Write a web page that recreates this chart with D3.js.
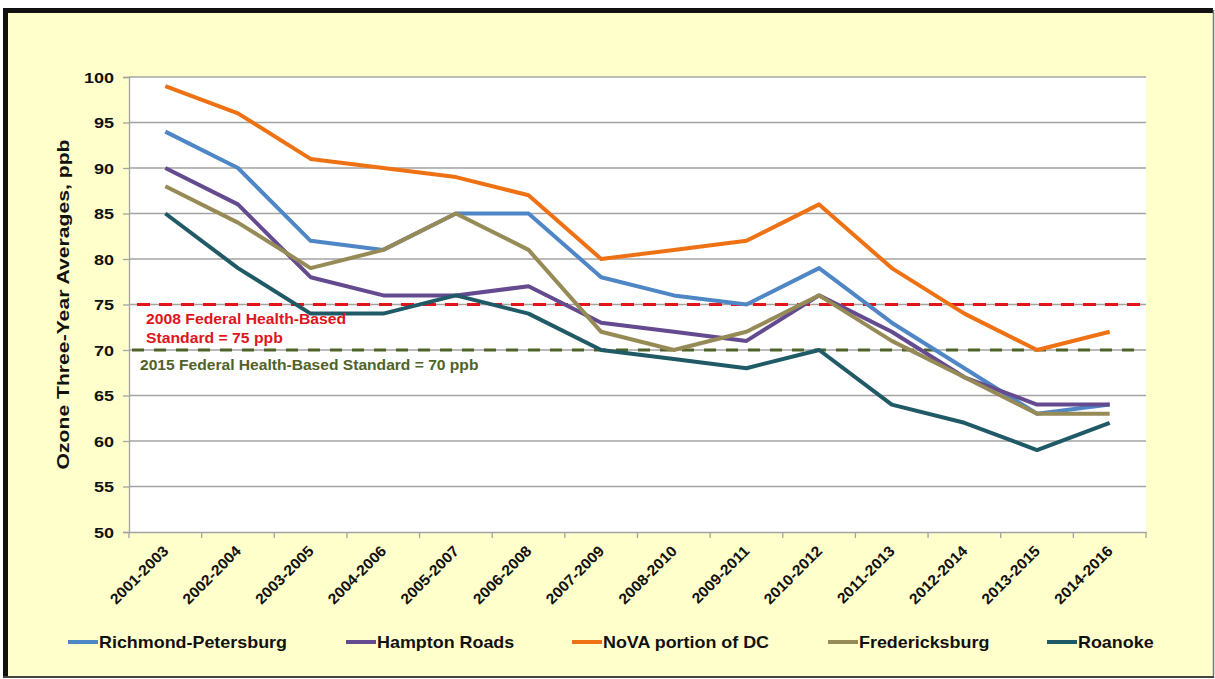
<!DOCTYPE html>
<html><head><meta charset="utf-8">
<script src="https://cdn.jsdelivr.net/npm/d3@7"></script>
<style>
body{margin:0;background:#fff;}
svg{display:block;}
text{font-family:"Liberation Sans",Arial,sans-serif;font-weight:bold;}
</style>
</head><body>
<svg id="c" width="1215" height="679"></svg>
<script>
// ---- data ----
const categories = ["2001-2003","2002-2004","2003-2005","2004-2006","2005-2007","2006-2008","2007-2009","2008-2010","2009-2011","2010-2012","2011-2013","2012-2014","2013-2015","2014-2016"];
const richmondPetersburg = [94,90,82,81,85,85,78,76,75,79,73,68,63,64];
const hamptonRoads       = [90,86,78,76,76,77,73,72,71,76,72,67,64,64];
const novaPortionOfDC    = [99,96,91,90,89,87,80,81,82,86,79,74,70,72];
const fredericksburg     = [88,84,79,81,85,81,72,70,72,76,71,67,63,63];
const roanoke            = [85,79,74,74,76,74,70,69,68,70,64,62,59,62];
const seriesNames = ["Richmond-Petersburg","Hampton Roads","NoVA portion of DC","Fredericksburg","Roanoke"];
const yTicks = [50,55,60,65,70,75,80,85,90,95,100];
const standardValues = [75,70];
const standardLabels = [["2008 Federal Health-Based","Standard = 75 ppb"],["2015 Federal Health-Based Standard = 70 ppb"]];
const yTitle = "Ozone Three-Year Averages, ppb";

// ---- styles / layout ----
const seriesColors = ["#4F86C6","#644A8E","#EE7114","#968B56","#1F5A66"];
const standardColors = ["#E0141B","#4F6228"];
const plot = {left:129, right:1146, top:77, bottom:532};
const SX = 1.2;

const svg = d3.select("#c");
// frame
svg.append("rect").attr("x",5).attr("y",10).attr("width",1208).attr("height",667).attr("fill","#FFFFCC");
svg.append("line").attr("x1",3).attr("x2",1213).attr("y1",10.5).attr("y2",10.5).attr("stroke","#111").attr("stroke-width",5);
svg.append("line").attr("x1",5.5).attr("x2",5.5).attr("y1",8).attr("y2",678).attr("stroke","#111").attr("stroke-width",5);
svg.append("line").attr("x1",1213.5).attr("x2",1213.5).attr("y1",10).attr("y2",678).attr("stroke","#777").attr("stroke-width",1.5);
svg.append("line").attr("x1",3).attr("x2",1214).attr("y1",677).attr("y2",677).attr("stroke","#444").attr("stroke-width",2);

// plot bg
svg.append("rect").attr("x",plot.left).attr("y",plot.top).attr("width",plot.right-plot.left).attr("height",plot.bottom-plot.top).attr("fill","#fff");

const x = d3.scaleBand().domain(categories).range([plot.left,plot.right]);
const y = d3.scaleLinear().domain([50,100]).range([plot.bottom,plot.top]);
const cx = c => x(c) + x.bandwidth()/2;

// gridlines
svg.append("g").selectAll("line").data(yTicks.filter(t=>t>50)).join("line")
  .attr("x1",plot.left).attr("x2",plot.right)
  .attr("y1",d=>y(d)).attr("y2",d=>y(d))
  .attr("stroke","#A3A3A3").attr("stroke-width",1.3);

// y axis
const gy = svg.append("g").attr("transform",`translate(${plot.left},0)`)
  .call(d3.axisLeft(y).tickValues(yTicks).tickSize(6).tickPadding(0).tickFormat(d3.format("d")));
gy.select(".domain").attr("stroke","#A3A3A3").attr("stroke-width",1.3);
gy.selectAll(".tick line").attr("stroke","#A3A3A3").attr("stroke-width",1.3);
gy.selectAll(".tick text").attr("x",0).attr("dy","0.36em")
  .attr("transform",`translate(-15,0) scale(${SX},1)`)
  .attr("fill","#111").style("font-size","15px").style("font-family","Liberation Sans, Arial, sans-serif").style("font-weight","bold");

// x axis
const gx = svg.append("g").attr("transform",`translate(0,${plot.bottom})`)
  .call(d3.axisBottom(x).tickSize(0).tickPadding(0));
gx.select(".domain").attr("stroke","#A3A3A3").attr("stroke-width",1.3);
gx.selectAll(".tick text").attr("x",0).attr("y",0).attr("dy",0)
  .attr("text-anchor","end")
  .attr("transform","translate(4,20) rotate(-45) scale(1.05,1)")
  .attr("fill","#111").style("font-size","15px").style("font-family","Liberation Sans, Arial, sans-serif").style("font-weight","bold");
// boundary ticks
const bounds = categories.map(c=>x(c)).concat([x(categories[categories.length-1])+x.bandwidth()]);
svg.append("g").selectAll("line").data(bounds).join("line")
  .attr("x1",d=>d).attr("x2",d=>d).attr("y1",plot.bottom).attr("y2",plot.bottom+6)
  .attr("stroke","#A3A3A3").attr("stroke-width",1.3);

// y title
svg.append("text").attr("transform",`translate(69,${(plot.top+plot.bottom)/2}) rotate(-90)`)
  .attr("text-anchor","middle").attr("fill","#111").style("font-size","17px")
  .attr("textLength",330).attr("lengthAdjust","spacingAndGlyphs")
  .text(yTitle);

// standards
const stdG = svg.append("g");
stdG.append("line").attr("x1",137).attr("x2",1145).attr("y1",y(standardValues[0])).attr("y2",y(standardValues[0]))
  .attr("stroke",standardColors[0]).attr("stroke-width",3.2).attr("stroke-dasharray","13,9");
stdG.append("line").attr("x1",132).attr("x2",1142).attr("y1",y(standardValues[1])).attr("y2",y(standardValues[1]))
  .attr("stroke",standardColors[1]).attr("stroke-width",3.2).attr("stroke-dasharray","12,10");

// series
const allSeries = [richmondPetersburg,hamptonRoads,novaPortionOfDC,fredericksburg,roanoke];
const line = d3.line().x((d,i)=>cx(categories[i])).y(d=>y(d));
svg.append("g").selectAll("path").data(allSeries).join("path")
  .attr("d",line).attr("fill","none")
  .attr("stroke",(d,i)=>seriesColors[i]).attr("stroke-width",4)
  .attr("stroke-linejoin","round").attr("stroke-linecap","butt");

// standard labels
standardLabels[0].forEach((t,i)=>{
  svg.append("text").attr("transform",`translate(146,${324+i*19}) scale(1.05,1)`)
    .attr("fill",standardColors[0]).style("font-size","15px").text(t);
});
standardLabels[1].forEach((t,i)=>{
  svg.append("text").attr("transform",`translate(140,${370+i*19}) scale(1.04,1)`)
    .attr("fill",standardColors[1]).style("font-size","15px").text(t);
});

// legend
const legendX = [68,346,572,828,1047];
const lg = svg.append("g").attr("transform","translate(0,642)");
seriesNames.forEach((n,i)=>{
  lg.append("line").attr("x1",legendX[i]).attr("x2",legendX[i]+30).attr("y1",0).attr("y2",0)
    .attr("stroke",seriesColors[i]).attr("stroke-width",4);
  lg.append("text").attr("transform",`translate(${legendX[i]+31},6) scale(1.12,1)`)
    .attr("fill","#111").style("font-size","16px").text(n);
});
</script>
</body></html>
